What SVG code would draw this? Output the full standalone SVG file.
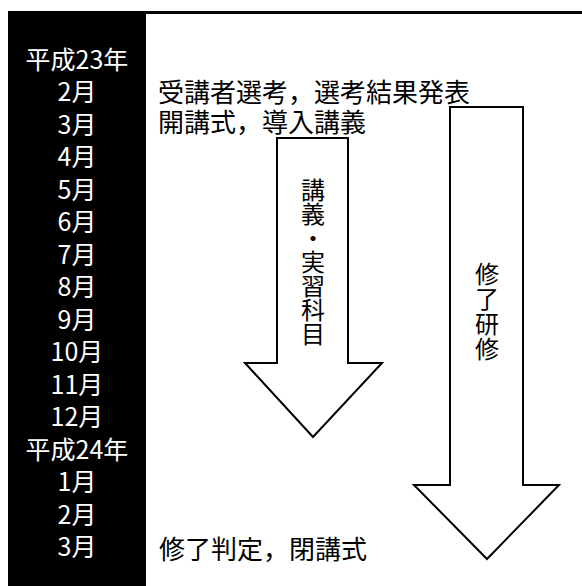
<svg xmlns="http://www.w3.org/2000/svg" width="582" height="586" viewBox="0 0 582 586">
<style>
.col{font-family:"Noto Sans CJK JP","Noto Sans",sans-serif;font-size:25px;fill:#fff;text-anchor:middle;dominant-baseline:central}
.ev{font-family:"Noto Sans CJK JP","Noto Sans",sans-serif;font-size:26px;fill:#000;dominant-baseline:central}
.vt{font-family:"Noto Sans CJK JP","Noto Sans",sans-serif;font-size:24px;fill:#000;writing-mode:vertical-rl;text-anchor:start}
.arrow{fill:#fff;stroke:#000;stroke-width:2;stroke-linejoin:miter}
</style>
<rect x="0" y="0" width="582" height="586" fill="#fff"/>
<g id="timeline">
<rect x="8" y="11" width="574" height="3" fill="#000"/>
<rect x="8" y="11" width="138" height="575" fill="#000"/>
<text class="col" x="77" y="57.5">平成23年</text>
<text class="col" x="77" y="90">2月</text>
<text class="col" x="77" y="122.5">3月</text>
<text class="col" x="77" y="155">4月</text>
<text class="col" x="77" y="187.5">5月</text>
<text class="col" x="77" y="220">6月</text>
<text class="col" x="77" y="252.5">7月</text>
<text class="col" x="77" y="285">8月</text>
<text class="col" x="77" y="317.5">9月</text>
<text class="col" x="77" y="350">10月</text>
<text class="col" x="77" y="382.5">11月</text>
<text class="col" x="77" y="415">12月</text>
<text class="col" x="77" y="447.5">平成24年</text>
<text class="col" x="77" y="480">1月</text>
<text class="col" x="77" y="512.5">2月</text>
<text class="col" x="77" y="545">3月</text>
</g>
<g id="events">
<text class="ev"><tspan x="158" y="90">受講者選考，選考結果発表</tspan><tspan x="158" y="120">開講式，導入講義</tspan></text>
<text class="ev" x="159" y="547">修了判定，閉講式</text>
</g>
<g id="connectors">
<g id="arrow-lectures">
<path class="arrow" d="M277,138 L348,138 L348,363 L382,363 L313,437 L245,363 L277,363 Z"/>
<text class="vt" x="313" y="178">講義・実習科目</text>
</g>
<g id="arrow-training">
<path class="arrow" d="M450,107 L523,107 L523,485 L559,485 L487,559 L414,485 L450,485 Z"/>
<text class="vt" x="487" y="262" letter-spacing="1">修了研修</text>
</g>
</g>
</svg>
